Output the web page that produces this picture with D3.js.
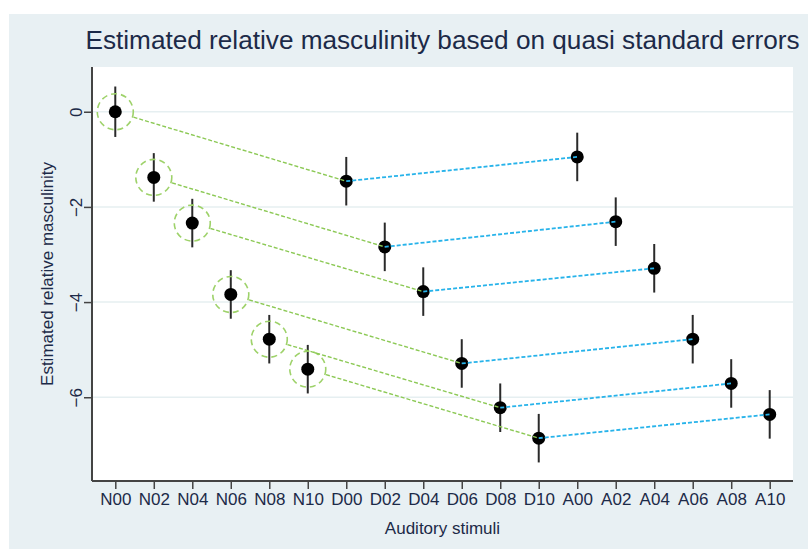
<!DOCTYPE html>
<html><head><meta charset="utf-8">
<script src="https://cdn.jsdelivr.net/npm/d3@7/dist/d3.min.js"></script>
<style>html,body{margin:0;padding:0;background:#fff;}svg{display:block;}</style>
</head><body>
<svg id="chart" width="808" height="549"></svg>
<script>
const categories = ["N00","N02","N04","N06","N08","N10","D00","D02","D04","D06","D08","D10","A00","A02","A04","A06","A08","A10"];
const estimates  = [0, -1.38, -2.34, -3.84, -4.78, -5.41, -1.46, -2.84, -3.78, -5.29, -6.22, -6.86, -0.95, -2.31, -3.29, -4.78, -5.71, -6.36];
const ciHalf     = [0.53, 0.51, 0.51, 0.51, 0.51, 0.51, 0.51, 0.51, 0.51, 0.51, 0.51, 0.51, 0.51, 0.51, 0.51, 0.51, 0.51, 0.51];
const circled    = ["N00","N02","N04","N06","N08","N10"];
const greenLinks = [["N00","D00"],["N02","D02"],["N04","D04"],["N06","D06"],["N08","D08"],["N10","D10"]];
const blueLinks  = [["D00","A00"],["D02","A02"],["D04","A04"],["D06","A06"],["D08","A08"],["D10","A10"]];
const yTicks     = [0, -2, -4, -6];
const yTickLabels= ["0", "\u22122", "\u22124", "\u22126"];
const titleText  = "Estimated relative masculinity based on quasi standard errors";
const xTitle     = "Auditory stimuli";
const yTitle     = "Estimated relative masculinity";

const W = 808, H = 549;
const plot = {left: 92, right: 793, top: 67, bottom: 481};
const textColor = "#1c2a48";
const font = "Liberation Sans, Arial, sans-serif";
const svg = d3.select("#chart");

svg.append("rect").attr("x", 9).attr("y", 14).attr("width", W - 9).attr("height", H - 14).attr("fill", "#e8f0f3");
svg.append("rect").attr("x", plot.left).attr("y", plot.top).attr("width", plot.right - plot.left).attr("height", plot.bottom - plot.top).attr("fill", "#ffffff");

const x = d3.scalePoint().domain(categories).range([plot.left, plot.right]).padding(0.605);
const y = d3.scaleLinear().domain([-7.76, 0.94]).range([plot.bottom, plot.top]);

const val = {};
categories.forEach((c, i) => val[c] = estimates[i]);

// gridlines
svg.append("g").selectAll("line").data(yTicks).join("line")
  .attr("x1", plot.left).attr("x2", plot.right)
  .attr("y1", d => y(d)).attr("y2", d => y(d))
  .attr("stroke", "#e6eff1").attr("stroke-width", 1.5);

// axes
const yAxis = svg.append("g").attr("transform", `translate(${plot.left},0)`)
  .call(d3.axisLeft(y).tickValues(yTicks).tickSize(8).tickFormat((d, i) => yTickLabels[i]));
const xAxis = svg.append("g").attr("transform", `translate(0,${plot.bottom})`)
  .call(d3.axisBottom(x).tickSize(8));
[yAxis, xAxis].forEach(g => {
  g.select(".domain").attr("stroke", "#444").attr("stroke-width", 2);
  g.selectAll(".tick line").attr("stroke", "#444").attr("stroke-width", 1.5);
  g.selectAll("text").attr("fill", textColor).attr("font-family", font).attr("font-size", 17);
});
xAxis.select(".domain").attr("d", `M${plot.left},0H${plot.right}`);
yAxis.select(".domain").attr("d", `M0,${plot.top}V${plot.bottom}`);
xAxis.selectAll(".tick text").attr("y", 12).attr("dy", "0.71em");
yAxis.selectAll(".tick text")
  .attr("x", null)
  .attr("text-anchor", "middle")
  .attr("transform", "translate(-16,0) rotate(-90)")
  .attr("dy", "0.35em");

// error bars
const g = svg.append("g");
g.selectAll("line.err").data(categories).join("line").attr("class", "err")
  .attr("x1", d => x(d)).attr("x2", d => x(d))
  .attr("y1", (d, i) => y(estimates[i] + ciHalf[i]))
  .attr("y2", (d, i) => y(estimates[i] - ciHalf[i]))
  .attr("stroke", "#2a2a2a").attr("stroke-width", 2);

// points
g.selectAll("circle.pt").data(categories).join("circle").attr("class", "pt")
  .attr("cx", d => x(d)).attr("cy", d => y(val[d])).attr("r", 6.5)
  .attr("fill", "#000");

// dashed circles
g.selectAll("circle.ring").data(circled).join("circle").attr("class", "ring")
  .attr("cx", d => x(d)).attr("cy", d => y(val[d])).attr("r", 18)
  .attr("fill", "none").attr("stroke", "#9ed26a").attr("stroke-width", 1.6)
  .attr("stroke-dasharray", "6,4");

// green links (start at ring edge)
g.selectAll("line.gl").data(greenLinks).join("line").attr("class", "gl")
  .each(function(d) {
    const x0 = x(d[0]), y0 = y(val[d[0]]), x1 = x(d[1]), y1 = y(val[d[1]]);
    const len = Math.hypot(x1 - x0, y1 - y0);
    d3.select(this)
      .attr("x1", x0 + (x1 - x0) / len * 19).attr("y1", y0 + (y1 - y0) / len * 19)
      .attr("x2", x1).attr("y2", y1);
  })
  .attr("stroke", "#8cc955").attr("stroke-width", 1.4).attr("stroke-dasharray", "4,2");

// blue links
g.selectAll("line.bl").data(blueLinks).join("line").attr("class", "bl")
  .attr("x1", d => x(d[0])).attr("y1", d => y(val[d[0]]))
  .attr("x2", d => x(d[1])).attr("y2", d => y(val[d[1]]))
  .attr("stroke", "#27b3ea").attr("stroke-width", 1.8).attr("stroke-dasharray", "4,2");

// titles
svg.append("text").attr("x", (plot.left + plot.right) / 2).attr("y", 49)
  .attr("text-anchor", "middle").attr("fill", textColor)
  .attr("font-family", font).attr("font-size", 25)
  .attr("textLength", 714).attr("lengthAdjust", "spacingAndGlyphs")
  .text(titleText);
svg.append("text").attr("x", (plot.left + plot.right) / 2).attr("y", 534)
  .attr("text-anchor", "middle").attr("fill", textColor)
  .attr("font-family", font).attr("font-size", 17)
  .text(xTitle);
svg.append("text").attr("transform", `translate(53,${(plot.top + plot.bottom) / 2}) rotate(-90)`)
  .attr("text-anchor", "middle").attr("fill", textColor)
  .attr("font-family", font).attr("font-size", 17)
  .text(yTitle);
</script>
</body></html>
